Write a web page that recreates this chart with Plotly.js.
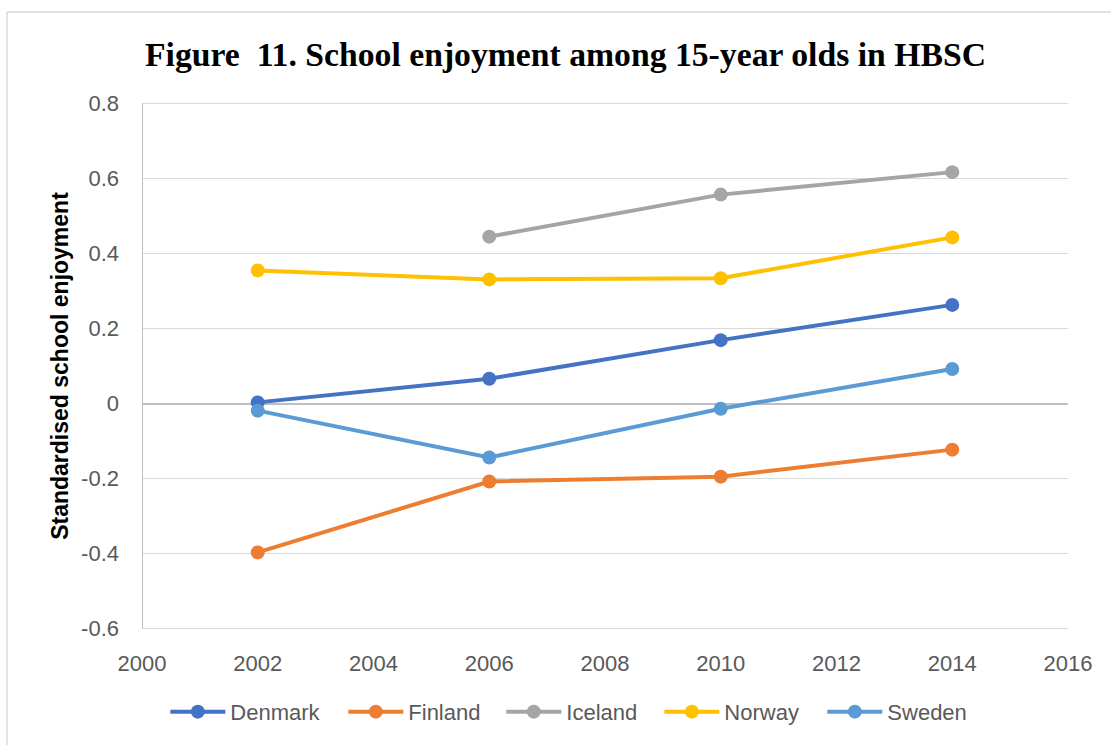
<!DOCTYPE html>
<html>
<head>
<meta charset="utf-8">
<script src="https://cdn.plot.ly/plotly-3.0.1.min.js"></script>
<style>
html, body { margin: 0; padding: 0; background: #fff; }
#chart { width: 1111px; height: 745px; }
</style>
</head>
<body>
<div id="chart"></div>
<script>
const years = [2002, 2006, 2010, 2014];
const seriesNames = ["Denmark", "Finland", "Iceland", "Norway", "Sweden"];
const denmark = [0.003, 0.066, 0.169, 0.263];
const finland = [-0.397, -0.208, -0.195, -0.123];
const iceland = [null, 0.445, 0.557, 0.617];
const norway = [0.355, 0.331, 0.334, 0.443];
const sweden = [-0.019, -0.144, -0.014, 0.092];
const colors = ["#4472C4", "#ED7D31", "#A5A5A5", "#FFC000", "#5B9BD5"];
const yTicks = [-0.6, -0.4, -0.2, 0, 0.2, 0.4, 0.6, 0.8];
const yTickText = ["-0.6", "-0.4", "-0.2", "0", "0.2", "0.4", "0.6", "0.8"];
const xTicks = [2000, 2002, 2004, 2006, 2008, 2010, 2012, 2014, 2016];

// legend anchor positions (paper fraction) for each series' legend entry
const legendIds = ["legend", "legend2", "legend3", "legend4", "legend5"];
const legendX = [0.0252, 0.2174, 0.388, 0.5587, 0.7347];

const allSeries = [denmark, finland, iceland, norway, sweden];
const traces = allSeries.map((vals, i) => ({
  x: years,
  y: vals,
  name: seriesNames[i],
  type: "scatter",
  mode: "lines+markers",
  connectgaps: false,
  legend: legendIds[i],
  line: { color: colors[i], width: 4 },
  marker: { color: colors[i], size: 14 }
}));

const tickFont = { family: "Liberation Sans, Arial, sans-serif", size: 22, color: "#595959" };
const legendFont = { family: "Liberation Sans, Arial, sans-serif", size: 22, color: "#595959" };

const layout = {
  width: 1111,
  height: 745,
  margin: { l: 142, r: 43, t: 102, b: 113 },
  paper_bgcolor: "#ffffff",
  plot_bgcolor: "#ffffff",
  showlegend: true,
  title: {
    text: "Figure  11. School enjoyment among 15-year olds in HBSC",
    font: { family: "Liberation Serif, Times New Roman, serif", size: 33.7, color: "#000000", weight: "bold" },
    x: 0.509, xanchor: "center",
    y: 0.927, yanchor: "middle"
  },
  xaxis: {
    range: [2000, 2016],
    tickvals: xTicks,
    ticktext: xTicks.map(String),
    showgrid: false,
    zeroline: false,
    showline: false,
    ticks: "",
    tickfont: tickFont,
    ticklabelstandoff: 18,
    fixedrange: true
  },
  yaxis: {
    range: [-0.604, 0.804],
    tickvals: yTicks,
    ticktext: yTickText,
    showgrid: true,
    gridcolor: "#D9D9D9",
    gridwidth: 1.5,
    zeroline: true,
    zerolinecolor: "#BFBFBF",
    zerolinewidth: 2,
    showline: false,
    ticks: "",
    tickfont: tickFont,
    ticklabelstandoff: 22,
    title: {
      text: "<b>Standardised school enjoyment</b>",
      font: { family: "Liberation Sans, Arial, sans-serif", size: 23, color: "#000000" },
      standoff: 6
    },
    fixedrange: true
  },
  shapes: [
    { type: "line", xref: "paper", yref: "paper", x0: -0.1458, x1: 1.05, y0: 1.1705, y1: 1.1705, line: { color: "#D9D9D9", width: 1.5 } },
    { type: "line", xref: "paper", yref: "paper", x0: -0.1458, x1: -0.1458, y0: 1.1705, y1: -0.3, line: { color: "#D9D9D9", width: 1.5 } },
    { type: "line", xref: "x", yref: "y", x0: 2000, x1: 2000, y0: -0.6, y1: 0.8, line: { color: "#BFBFBF", width: 2 } }
  ]
};

legendIds.forEach((id, i) => {
  layout[id] = {
    orientation: "h",
    x: legendX[i], xanchor: "left",
    y: -0.155, yanchor: "middle",
    font: legendFont,
    itemwidth: 55,
    bgcolor: "rgba(0,0,0,0)"
  };
});

Plotly.newPlot("chart", traces, layout, { displayModeBar: false, staticPlot: true });
</script>
</body>
</html>
